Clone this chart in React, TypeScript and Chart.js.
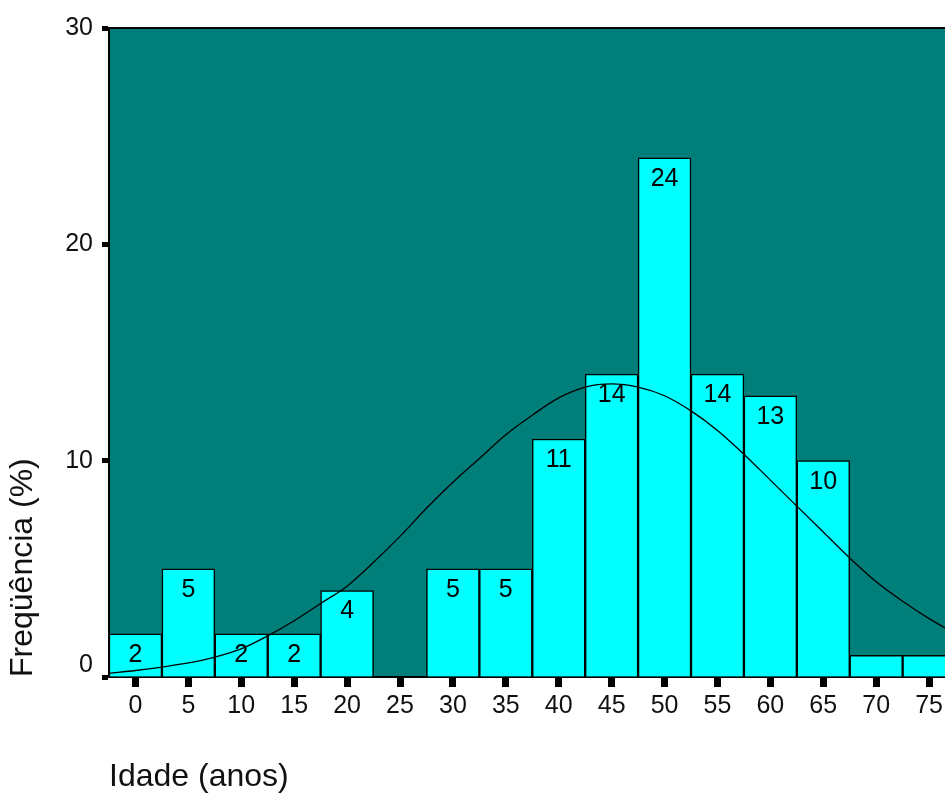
import React, { useEffect, useRef } from "react";
import { Chart, registerables } from "chart.js";

Chart.register(...registerables);

// ---- data ----
const ageBins = [0, 5, 10, 15, 20, 25, 30, 35, 40, 45, 50, 55, 60, 65, 70, 75];
const freqPct = [2, 5, 2, 2, 4, 0, 5, 5, 11, 14, 24, 14, 13, 10, 1, 1];

const yTicks = [0, 10, 20, 30];
const xTicks = [0, 5, 10, 15, 20, 25, 30, 35, 40, 45, 50, 55, 60, 65, 70, 75];

// normal curve
const curveAge = [
  -2.5, 0, 2.5, 5, 7.5, 10, 12.5, 15, 17.5, 20, 22.5, 25, 27.5, 30, 32.5, 35,
  37.5, 40, 42.5, 45, 47.5, 50, 52.5, 55, 57.5, 60, 62.5, 65, 67.5, 70, 72.5,
  75, 77.5,
];
const curvePct = [
  0.17, 0.3, 0.46, 0.65, 0.92, 1.3, 1.9, 2.6, 3.4, 4.2, 5.3, 6.5, 7.8, 9.0,
  10.1, 11.2, 12.1, 12.9, 13.4, 13.55, 13.4, 13.0, 12.3, 11.4, 10.3, 9.1, 7.9,
  6.7, 5.5, 4.4, 3.5, 2.7, 2.0,
];

const xTitle = "Idade (anos)";
const yTitle = "Freqüência (%)";

const PLOT_BG = "rgb(0,126,122)";
const BAR_BG = "#00ffff";
const TEXT = "#111";
const NUM_FONT = "'Liberation Sans Narrow', 'Arial Narrow', 'Liberation Sans', Arial, sans-serif";
const NUM_SIZE = 25;
const TITLE_FONT = "'Liberation Sans', Arial, sans-serif";
const TITLE_SIZE = 32;

const decorPlugin = {
  id: "decor",
  beforeDraw(chart: any) {
    const { ctx, chartArea } = chart;
    ctx.save();
    ctx.fillStyle = PLOT_BG;
    ctx.fillRect(
      chartArea.left,
      chartArea.top,
      chartArea.right - chartArea.left,
      chartArea.bottom - chartArea.top
    );
    ctx.restore();
  },
  afterDatasetsDraw(chart: any) {
    const { ctx, chartArea } = chart;
    ctx.save();
    // top frame line
    ctx.strokeStyle = "#000";
    ctx.lineWidth = 2;
    ctx.beginPath();
    ctx.moveTo(chartArea.left - 1, chartArea.top);
    ctx.lineTo(chartArea.right, chartArea.top);
    ctx.stroke();

    // bar value labels
    const meta = chart.getDatasetMeta(1);
    ctx.fillStyle = "#000";
    ctx.font = `${NUM_SIZE}px ${NUM_FONT}`;
    ctx.textAlign = "center";
    ctx.textBaseline = "middle";
    meta.data.forEach((el: any, i: number) => {
      const h = el.base - el.y;
      if (h > 30) {
        ctx.fillText(String(freqPct[i]), el.x, el.y + Math.min(21, h / 2));
      }
    });

    // bottom y tick label sits a bit above its tick
    const ys = chart.scales.y;
    ctx.fillStyle = TEXT;
    ctx.textAlign = "right";
    ctx.fillText(String(yTicks[0]), ys.right - 16, ys.getPixelForValue(yTicks[0]) - 12);
    ctx.restore();
  },
};

export default function App() {
  const ref = useRef<HTMLCanvasElement | null>(null);

  useEffect(() => {
    if (!ref.current) return;
    const chart = new Chart(ref.current, {
      type: "bar",
      data: {
        datasets: [
          {
            type: "line",
            data: curveAge.map((x, i) => ({ x, y: curvePct[i] })),
            borderColor: "#000",
            borderWidth: 1.3,
            pointRadius: 0,
            cubicInterpolationMode: "monotone",
            order: 0,
          } as any,
          {
            type: "bar",
            data: ageBins.map((x, i) => ({ x, y: freqPct[i] })),
            backgroundColor: BAR_BG,
            borderColor: "#000",
            borderWidth: 1.5,
            barPercentage: 1,
            categoryPercentage: 1,
            order: 1,
          } as any,
        ],
      },
      options: {
        animation: false,
        responsive: false,
        devicePixelRatio: 1,
        layout: { padding: { top: 28, left: 0, right: 0, bottom: 0 } },
        plugins: { legend: { display: false }, tooltip: { enabled: false } },
        scales: {
          x: {
            type: "linear",
            min: -2.5,
            max: 76.5,
            offset: false,
            afterBuildTicks: (s: any) => {
              s.ticks = xTicks.map((v) => ({ value: v }));
            },
            afterFit: (s: any) => {
              s.height = 121;
            },
            grid: {
              offset: false,
              drawOnChartArea: false,
              drawTicks: true,
              tickLength: 10,
              tickWidth: 7,
              tickColor: "#000",
            },
            border: { display: true, color: "#000", width: 2 },
            ticks: {
              color: TEXT,
              font: { size: NUM_SIZE, family: NUM_FONT },
              padding: 4,
              maxRotation: 0,
              autoSkip: false,
              callback: (v: any) => String(v),
            },
            title: {
              display: true,
              text: xTitle,
              align: "start",
              color: TEXT,
              font: { size: TITLE_SIZE, family: TITLE_FONT },
              padding: { top: 0, bottom: 2 },
            },
          },
          y: {
            type: "linear",
            min: 0,
            max: 30,
            afterBuildTicks: (s: any) => {
              s.ticks = yTicks.map((v) => ({ value: v }));
            },
            afterFit: (s: any) => {
              s.width = 109;
            },
            grid: {
              drawOnChartArea: false,
              drawTicks: true,
              tickLength: 7,
              tickWidth: 5,
              tickColor: "#000",
            },
            border: { display: true, color: "#000", width: 2 },
            ticks: {
              color: TEXT,
              font: { size: NUM_SIZE, family: NUM_FONT },
              padding: 9,
              callback: (v: any) => (v === yTicks[0] ? "" : String(v)),
            },
            title: {
              display: true,
              text: yTitle,
              align: "start",
              color: TEXT,
              font: { size: TITLE_SIZE, family: TITLE_FONT },
              padding: { top: 4, bottom: 0 },
            },
          },
        },
      } as any,
      plugins: [decorPlugin],
    });
    return () => chart.destroy();
  }, []);

  return (
    <div style={{ position: "fixed", left: 0, top: 0, width: 947, height: 798, background: "#fff" }}>
      <canvas ref={ref} width={947} height={798} style={{ display: "block" }} />
    </div>
  );
}
